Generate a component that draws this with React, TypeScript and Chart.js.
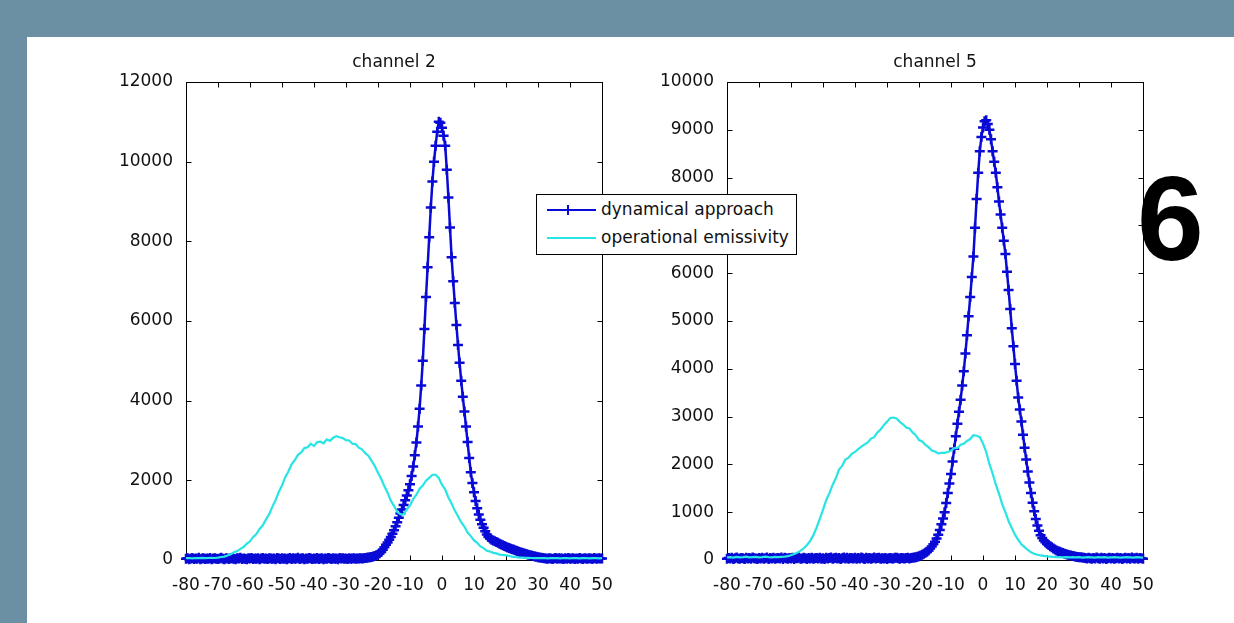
import React, { useEffect, useRef } from 'react';
import { Chart, registerables } from 'chart.js';

Chart.register(...registerables);

// ---------- data ----------
// x positions of the operational-emissivity histogram (1-unit bins)
const xValues = [
  -80, -79, -78, -77, -76, -75, -74, -73, -72, -71,
  -70, -69, -68, -67, -66, -65, -64, -63, -62, -61,
  -60, -59, -58, -57, -56, -55, -54, -53, -52, -51,
  -50, -49, -48, -47, -46, -45, -44, -43, -42, -41,
  -40, -39, -38, -37, -36, -35, -34, -33, -32, -31,
  -30, -29, -28, -27, -26, -25, -24, -23, -22, -21,
  -20, -19, -18, -17, -16, -15, -14, -13, -12, -11,
  -10, -9, -8, -7, -6, -5, -4, -3, -2, -1,
  0, 1, 2, 3, 4, 5, 6, 7, 8, 9,
  10, 11, 12, 13, 14, 15, 16, 17, 18, 19,
  20, 21, 22, 23, 24, 25, 26, 27, 28, 29,
  30, 31, 32, 33, 34, 35, 36, 37, 38, 39,
  40, 41, 42, 43, 44, 45, 46, 47, 48, 49, 50,
];

// x positions of the dynamical-approach histogram (0.5-unit bins)
const xValuesFine = [
  -80, -79.5, -79, -78.5, -78, -77.5, -77, -76.5, -76, -75.5, -75, -74.5, -74, -73.5, -73, -72.5, -72, -71.5, -71, -70.5,
  -70, -69.5, -69, -68.5, -68, -67.5, -67, -66.5, -66, -65.5, -65, -64.5, -64, -63.5, -63, -62.5, -62, -61.5, -61, -60.5,
  -60, -59.5, -59, -58.5, -58, -57.5, -57, -56.5, -56, -55.5, -55, -54.5, -54, -53.5, -53, -52.5, -52, -51.5, -51, -50.5,
  -50, -49.5, -49, -48.5, -48, -47.5, -47, -46.5, -46, -45.5, -45, -44.5, -44, -43.5, -43, -42.5, -42, -41.5, -41, -40.5,
  -40, -39.5, -39, -38.5, -38, -37.5, -37, -36.5, -36, -35.5, -35, -34.5, -34, -33.5, -33, -32.5, -32, -31.5, -31, -30.5,
  -30, -29.5, -29, -28.5, -28, -27.5, -27, -26.5, -26, -25.5, -25, -24.5, -24, -23.5, -23, -22.5, -22, -21.5, -21, -20.5,
  -20, -19.5, -19, -18.5, -18, -17.5, -17, -16.5, -16, -15.5, -15, -14.5, -14, -13.5, -13, -12.5, -12, -11.5, -11, -10.5,
  -10, -9.5, -9, -8.5, -8, -7.5, -7, -6.5, -6, -5.5, -5, -4.5, -4, -3.5, -3, -2.5, -2, -1.5, -1, -0.5,
  0, 0.5, 1, 1.5, 2, 2.5, 3, 3.5, 4, 4.5, 5, 5.5, 6, 6.5, 7, 7.5, 8, 8.5, 9, 9.5,
  10, 10.5, 11, 11.5, 12, 12.5, 13, 13.5, 14, 14.5, 15, 15.5, 16, 16.5, 17, 17.5, 18, 18.5, 19, 19.5,
  20, 20.5, 21, 21.5, 22, 22.5, 23, 23.5, 24, 24.5, 25, 25.5, 26, 26.5, 27, 27.5, 28, 28.5, 29, 29.5,
  30, 30.5, 31, 31.5, 32, 32.5, 33, 33.5, 34, 34.5, 35, 35.5, 36, 36.5, 37, 37.5, 38, 38.5, 39, 39.5,
  40, 40.5, 41, 41.5, 42, 42.5, 43, 43.5, 44, 44.5, 45, 45.5, 46, 46.5, 47, 47.5, 48, 48.5, 49, 49.5,
  50,
];

const xTickLabels = [-80, -70, -60, -50, -40, -30, -20, -10, 0, 10, 20, 30, 40, 50];
const yTicksCh2 = [0, 2000, 4000, 6000, 8000, 10000, 12000];
const yTicksCh5 = [0, 1000, 2000, 3000, 4000, 5000, 6000, 7000, 8000, 9000, 10000];

const seriesNames = ['dynamical approach', 'operational emissivity'];
const panelTitles = ['channel 2', 'channel 5'];

const ch2Dynamical = [
  30, 45, 20, 35, 50, 25, 40, 30, 55, 20, 35, 45, 25, 40, 30, 50, 20, 35, 45, 30,
  25, 40, 55, 30, 20, 45, 35, 25, 50, 40, 30, 20, 45, 35, 55, 25, 40, 30, 20, 45,
  35, 50, 25, 40, 30, 45, 20, 35, 50, 30, 40, 25, 45, 35, 30, 40, 20, 50, 35, 25,
  45, 30, 40, 20, 35, 50, 25, 45, 30, 40, 55, 25, 35, 45, 20, 40, 30, 50, 35, 25,
  40, 30, 50, 25, 35, 45, 20, 40, 30, 50, 35, 25, 45, 30, 40, 20, 50, 35, 45, 30,
  40, 25, 45, 30, 35, 45, 30, 40, 35, 45, 40, 45, 50, 55, 60, 68, 75, 88, 100, 120,
  140, 170, 200, 260, 320, 380, 440, 510, 580, 660, 750, 850, 950, 1060, 1170, 1270, 1380, 1500, 1620, 1750,
  1900, 2110, 2350, 2630, 2950, 3350, 3800, 4380, 5000, 5800, 6600, 7350, 8100, 8850, 9500, 10000, 10400, 10750, 11000, 10980,
  10850, 10650, 10400, 9800, 9100, 8350, 7600, 7000, 6450, 5900, 5400, 4950, 4500, 4100, 3730, 3350, 2960, 2560, 2200, 1930,
  1700, 1480, 1300, 1140, 1010, 900, 810, 720, 640, 580, 540, 510, 490, 470, 450, 430, 410, 390, 370, 350,
  330, 315, 300, 285, 270, 255, 240, 225, 210, 195, 180, 168, 155, 142, 130, 120, 110, 100, 90, 80,
  70, 62, 55, 50, 45, 40, 30, 45, 35, 25, 40, 50, 30, 45, 35, 40, 25, 45, 30, 50,
  30, 35, 45, 25, 40, 30, 50, 35, 25, 45, 40, 30, 45, 35, 25, 50, 40, 30, 45, 35,
  40,
];

const ch2Operational = [
  45, 50, 40, 50, 45, 55, 45, 50, 55, 50,
  60, 75, 85, 115, 145, 195, 225, 280, 325, 410,
  470, 580, 650, 780, 870, 1020, 1150, 1340, 1500, 1710,
  1870, 2080, 2220, 2400, 2510, 2640, 2700, 2810, 2830, 2920,
  2860, 2960, 2970, 2930, 3030, 2990, 3070, 3110, 3080, 3060,
  3010, 3000, 2920, 2910, 2820, 2780, 2680, 2620, 2490, 2360,
  2190, 2040, 1850, 1690, 1490, 1360, 1210, 1150, 1140, 1270,
  1370, 1530, 1640, 1790, 1870, 1990, 2060, 2140, 2140, 2060,
  1890, 1770, 1570, 1420, 1240, 1100, 950, 840, 690, 600,
  490, 430, 340, 300, 230, 215, 180, 165, 135, 130,
  115, 105, 80, 78, 62, 63, 52, 55, 50, 48,
  50, 45, 50, 40, 45, 50, 45, 40, 50, 45,
  40, 50, 45, 40, 45, 50, 40, 45, 50, 40, 45,
];

const ch5Dynamical = [
  25, 40, 30, 45, 20, 35, 50, 30, 25, 40, 35, 20, 45, 30, 40, 25, 50, 35, 30, 20,
  40, 30, 45, 25, 35, 50, 20, 40, 30, 45, 25, 35, 40, 30, 50, 20, 45, 35, 25, 40,
  30, 45, 20, 40, 35, 50, 25, 30, 45, 35, 20, 40, 30, 45, 25, 35, 40, 30, 45, 25,
  35, 20, 45, 30, 40, 50, 25, 35, 45, 30, 40, 20, 35, 50, 30, 45, 25, 40, 35, 30,
  45, 25, 40, 30, 50, 35, 20, 45, 30, 40, 25, 35, 50, 30, 40, 45, 25, 35, 30, 40,
  20, 35, 40, 30, 30, 45, 45, 35, 25, 40, 35, 30, 40, 45, 30, 40, 45, 52, 60, 70,
  80, 95, 110, 130, 150, 175, 200, 240, 280, 330, 380, 450, 530, 630, 750, 870, 1000, 1190, 1400, 1600,
  1800, 2060, 2330, 2590, 2850, 3100, 3350, 3650, 3950, 4320, 4700, 5100, 5500, 5920, 6350, 6950, 7550, 8100, 8550, 8850,
  9050, 9180, 9200, 9120, 9000, 8800, 8550, 8330, 8100, 7800, 7500, 7230, 6950, 6680, 6400, 6030, 5650, 5250, 4850, 4470,
  4100, 3750, 3400, 3150, 2900, 2620, 2350, 2100, 1850, 1620, 1400, 1200, 1020, 860, 720, 610, 520, 460, 410, 370,
  340, 315, 290, 265, 240, 220, 200, 185, 170, 157, 145, 132, 120, 110, 100, 92, 85, 77, 70, 65,
  60, 55, 50, 45, 40, 30, 45, 35, 25, 40, 30, 50, 35, 25, 45, 30, 40, 20, 35, 45,
  30, 40, 25, 35, 45, 30, 40, 20, 35, 45, 30, 40, 25, 50, 35, 30, 45, 25, 40, 35,
  25,
];

const ch5Operational = [
  55, 60, 50, 65, 55, 60, 70, 55, 60, 65,
  55, 60, 70, 60, 55, 65, 60, 65, 70, 80,
  100, 125, 155, 195, 245, 315, 400, 520, 680, 860,
  1050, 1250, 1400, 1570, 1710, 1890, 1970, 2100, 2140, 2220,
  2260, 2320, 2370, 2420, 2460, 2540, 2570, 2670, 2730, 2820,
  2890, 2970, 2980, 2960, 2890, 2840, 2770, 2750, 2670, 2610,
  2510, 2480, 2410, 2360, 2290, 2270, 2230, 2240, 2240, 2260,
  2290, 2340, 2340, 2410, 2430, 2490, 2530, 2610, 2600, 2570,
  2440, 2260, 2010, 1810, 1580, 1390, 1170, 1000, 810, 670,
  530, 420, 330, 270, 210, 160, 130, 110, 95, 85,
  75, 70, 65, 60, 60, 55, 60, 55, 60, 55,
  60, 50, 55, 60, 55, 50, 60, 55, 60, 50,
  55, 60, 55, 50, 55, 60, 55, 50, 60, 55, 50,
];

// ---------- styles ----------
const BLUE = '#0a0ad6';
const CYAN = '#28e4e4';
const TEXT = '#111111';
const FONT_FAMILY = '"DejaVu Sans", "Liberation Sans", Arial, sans-serif';

const boxPlugin = {
  id: 'matlabBox',
  beforeDatasetsDraw(chart: any) {
    const { ctx, chartArea: a, scales } = chart;
    const xs = scales.x;
    const ys = scales.y;
    const L = Math.round(a.left) + 0.5;
    const R = Math.round(a.right) + 0.5;
    const T = Math.round(a.top) + 0.5;
    const B = Math.round(a.bottom) + 0.5;
    const tl = 5;
    ctx.save();
    ctx.strokeStyle = '#000';
    ctx.lineWidth = 1;
    ctx.strokeRect(L, T, R - L, B - T);
    ctx.beginPath();
    for (const t of xs.ticks) {
      const px = Math.round(xs.getPixelForValue(t.value)) + 0.5;
      ctx.moveTo(px, B);
      ctx.lineTo(px, B - tl);
      ctx.moveTo(px, T);
      ctx.lineTo(px, T + tl);
    }
    for (const t of ys.ticks) {
      const py = Math.round(ys.getPixelForValue(t.value)) + 0.5;
      ctx.moveTo(L, py);
      ctx.lineTo(L + tl, py);
      ctx.moveTo(R, py);
      ctx.lineTo(R - tl, py);
    }
    ctx.stroke();
    ctx.restore();
  },
};

function makeConfig(title: string, dyn: number[], oper: number[], yTicks: number[]): any {
  const tickFont = { family: FONT_FAMILY, size: 17 };
  return {
    type: 'line',
    data: {
      datasets: [
        {
          label: seriesNames[0],
          data: xValuesFine.map((x, i) => ({ x, y: dyn[i] })),
          borderColor: BLUE,
          backgroundColor: BLUE,
          borderWidth: 2.5,
          pointStyle: 'cross',
          pointRadius: 5,
          pointBorderWidth: 2.5,
          pointBorderColor: BLUE,
          pointBackgroundColor: BLUE,
          tension: 0,
          clip: false,
          order: 1,
        },
        {
          label: seriesNames[1],
          data: xValues.map((x, i) => ({ x, y: oper[i] })),
          borderColor: CYAN,
          backgroundColor: CYAN,
          borderWidth: 2.2,
          pointRadius: 0,
          tension: 0,
          clip: false,
          order: 0,
        },
      ],
    },
    options: {
      animation: false,
      responsive: false,
      maintainAspectRatio: false,
      events: [],
      layout: { padding: 0 },
      plugins: {
        legend: { display: false },
        tooltip: { enabled: false },
        title: {
          display: true,
          text: title,
          color: TEXT,
          font: { family: FONT_FAMILY, size: 17, weight: 'normal' },
          padding: { top: 12, bottom: 9.6 },
        },
      },
      scales: {
        x: {
          type: 'linear',
          position: 'bottom',
          min: xTickLabels[0],
          max: xTickLabels[xTickLabels.length - 1],
          grid: { display: false },
          border: { display: false },
          afterBuildTicks: (s: any) => {
            s.ticks = xTickLabels.map((v) => ({ value: v }));
          },
          afterFit: (s: any) => {
            s.height = 40;
          },
          ticks: {
            color: TEXT,
            font: tickFont,
            padding: 7,
            maxRotation: 0,
            minRotation: 0,
            autoSkip: false,
            callback: (v: any) => String(v),
          },
        },
        y: {
          type: 'linear',
          position: 'left',
          min: yTicks[0],
          max: yTicks[yTicks.length - 1],
          grid: { display: false },
          border: { display: false },
          afterBuildTicks: (s: any) => {
            s.ticks = yTicks.map((v) => ({ value: v }));
          },
          afterFit: (s: any) => {
            s.width = 66;
          },
          ticks: {
            color: TEXT,
            font: tickFont,
            padding: 5,
            callback: (v: any) => String(v),
          },
        },
        yr: {
          type: 'linear',
          position: 'right',
          min: 0,
          max: 1,
          display: true,
          grid: { display: false },
          border: { display: false },
          ticks: { display: false },
          afterFit: (s: any) => {
            s.width = 66;
          },
        },
      },
    },
    plugins: [boxPlugin],
  };
}

function LegendRow({ top, color, marker, label }: { top: number; color: string; marker: boolean; label: string }) {
  return (
    <>
      <div style={{ position: 'absolute', left: 10, top: top - 1, width: 49, height: 2, background: color }} />
      {marker && (
        <div style={{ position: 'absolute', left: 30, top: top - 5, width: 2, height: 10, background: color }} />
      )}
      <div
        style={{
          position: 'absolute',
          left: 64,
          top: top - 11,
          height: 22,
          lineHeight: '22px',
          font: `17px ${FONT_FAMILY}`,
          color: TEXT,
          whiteSpace: 'nowrap',
        }}
      >
        {label}
      </div>
    </>
  );
}

export default function App() {
  const leftRef = useRef<HTMLCanvasElement>(null);
  const rightRef = useRef<HTMLCanvasElement>(null);

  useEffect(() => {
    const c1 = new Chart(leftRef.current as HTMLCanvasElement, makeConfig(panelTitles[0], ch2Dynamical, ch2Operational, yTicksCh2));
    const c2 = new Chart(rightRef.current as HTMLCanvasElement, makeConfig(panelTitles[1], ch5Dynamical, ch5Operational, yTicksCh5));
    return () => {
      c1.destroy();
      c2.destroy();
    };
  }, []);

  return (
    <div
      style={{
        position: 'fixed',
        left: 0,
        top: 0,
        width: 1234,
        height: 623,
        background: '#6b8fa3',
        overflow: 'hidden',
      }}
    >
      <div style={{ position: 'absolute', left: 27, top: 37, right: 0, bottom: 0, background: '#ffffff' }} />
      <canvas
        ref={leftRef}
        width={548}
        height={560}
        style={{ position: 'absolute', left: 120, top: 40, width: 548, height: 560 }}
      />
      <canvas
        ref={rightRef}
        width={548}
        height={560}
        style={{ position: 'absolute', left: 661, top: 40, width: 548, height: 560 }}
      />
      <div
        style={{
          position: 'absolute',
          left: 536,
          top: 194,
          width: 261,
          height: 61,
          boxSizing: 'border-box',
          background: '#ffffff',
          border: '1px solid #000',
        }}
      >
        <LegendRow top={15} color={BLUE} marker={true} label={seriesNames[0]} />
        <LegendRow top={43} color={CYAN} marker={false} label={seriesNames[1]} />
      </div>
      <div
        style={{
          position: 'absolute',
          left: 1137,
          top: 158,
          font: 'bold 120px "Liberation Sans", Arial, sans-serif',
          lineHeight: '120px',
          color: '#000',
        }}
      >
        6
      </div>
    </div>
  );
}
